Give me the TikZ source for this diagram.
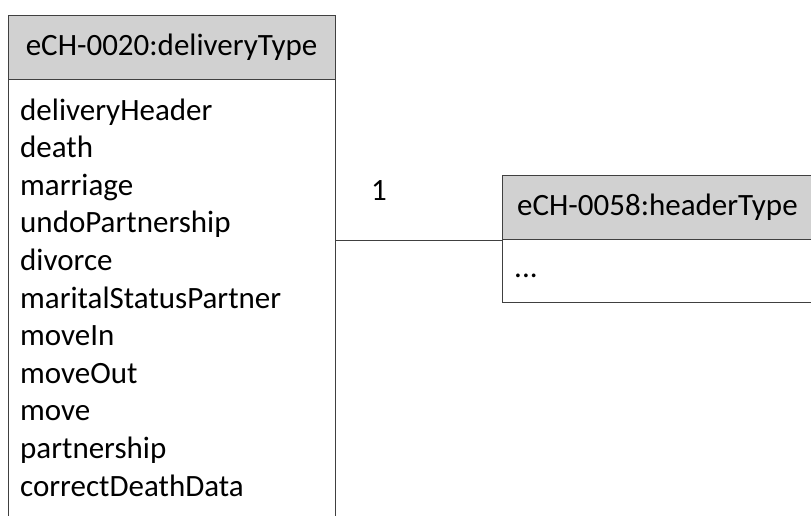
\documentclass[tikz,border=0pt]{standalone}
\usepackage{fontspec}
\setmainfont{Carlito}
\usetikzlibrary{positioning}
\tikzset{
  umlhead/.style={draw=black!75,line width=1.4pt,fill=black!18,anchor=north west,inner sep=0pt},
  umlbody/.style={draw=black!75,line width=1.4pt,anchor=north west,inner sep=0pt},
  umltext/.style={anchor=base west,inner sep=0pt,font=\fontsize{31}{36}\selectfont},
  assoc/.style={draw=black!75,line width=1.4pt}
}
\begin{document}
\begin{tikzpicture}[x=1pt,y=-1pt]
   \useasboundingbox (0,0) rectangle (811,515);
   \clip (0,0) rectangle (811,515);
   % delivery type
   \node[umlbody,minimum width=327pt,minimum height=470pt] (dbody) at (8,79) {};
   \node[umlhead,minimum width=327pt,minimum height=64pt] (dhead) at (8,15) {};
   \node[umltext,anchor=base] (dtitle) at (171.5,55) {eCH-0020:deliveryType};
   \foreach \name [count=\i] in {deliveryHeader,death,marriage,undoPartnership,divorce,
      maritalStatusPartner,moveIn,moveOut,move,partnership,correctDeathData}
      \node[umltext] (item\i) at (20,{120+(\i-1)*37.6}) {\name};
   % header type
   \node[umlbody,minimum width=320pt,minimum height=127pt] (hbody) at (502,175) {};
   \node[umlhead,minimum width=320pt,minimum height=64pt] (hhead) at (502,175) {};
   \node[umltext] (htitle) at (517,215) {eCH-0058:headerType};
   \node[umltext] (hdots) at (514,277) {...};
   % association
   \draw[assoc] (hhead.south west) -- (hhead.south west -| dbody.east);
   \node[umltext] (mult) at (371,200) {1};
\end{tikzpicture}
\end{document}
